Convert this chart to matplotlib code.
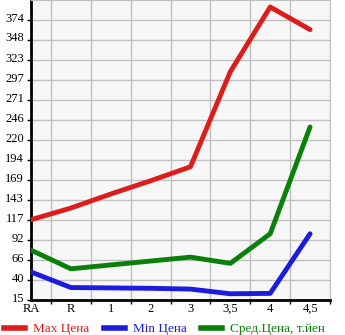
import matplotlib.pyplot as plt
import matplotlib.transforms as mtransforms
from matplotlib.lines import Line2D

# categories on the x axis
categories = ["RA", "R", "1", "2", "3", "3,5", "4", "4,5"]

# prices
max_price = [118, 133, 151, 168, 186, 308, 391, 362]
min_price = [51, 31, 30.5, 30, 29, 23, 23.5, 100]
avg_price = [79, 55, 60, 65, 70, 62, 100, 237]

y_ticks = [15 + i * 385 / 15 for i in range(15)]
y_labels = ["15", "40", "66", "92", "117", "143", "169", "194", "220",
            "246", "271", "297", "323", "348", "374"]

plt.rcParams['font.family'] = ['Liberation Serif', 'DejaVu Serif']

fig = plt.figure(figsize=(3.45, 3.35), dpi=100)
ax = fig.add_axes([31 / 345, 35 / 335, 299 / 345, 300 / 335])
ax.set_facecolor("#f7f7f7")

x = list(range(len(categories)))
red, blue, green = "#dd1c1c", "#1c1cdd", "#0a800a"
ax.plot(x, max_price, color=red, linewidth=3.5, solid_capstyle="round", zorder=3)
ax.plot(x, min_price, color=blue, linewidth=3.5, solid_capstyle="round", zorder=3)
ax.plot(x, avg_price, color=green, linewidth=3.5, solid_capstyle="round", zorder=3)

ax.set_xlim(0, 7.5)
ax.set_ylim(15, 400)

# grid every half step on x, at every tick on y
ax.set_xticks([i * 0.5 for i in range(16)], minor=True)
ax.set_xticks(x)
ax.set_xticklabels(categories, fontsize=9)
ax.set_yticks(y_ticks)
ax.set_yticklabels(y_labels, fontsize=9)
ax.grid(True, which="minor", axis="x", color="#c0c0c0", linewidth=1)
ax.grid(True, which="major", axis="y", color="#c0c0c0", linewidth=1)
ax.tick_params(axis="x", which="major", length=0, pad=2)
ax.tick_params(axis="x", which="minor", length=3, width=1, color="black")
ax.tick_params(axis="y", length=3, width=1, pad=2)
ax.set_axisbelow(True)

# y labels sit a little above their ticks
shift = mtransforms.ScaledTranslation(0, 3 / 100, fig.dpi_scale_trans)
for lbl in ax.get_yticklabels():
    lbl.set_transform(lbl.get_transform() + shift)

ax.spines["left"].set_linewidth(2)
ax.spines["bottom"].set_linewidth(2)
ax.spines["top"].set_color("#c0c0c0")
ax.spines["right"].set_color("#c0c0c0")

handles = [Line2D([], [], color=red, linewidth=4),
           Line2D([], [], color=blue, linewidth=4),
           Line2D([], [], color=green, linewidth=4)]
leg = fig.legend(handles, ["Max Цена", "Min Цена", "Сред.Цена, т.йен"],
                 loc="lower left", bbox_to_anchor=(-0.012, -0.025), ncol=3,
                 frameon=False, fontsize=9.5, handlelength=1.6,
                 handletextpad=0.6, columnspacing=1.1, borderaxespad=0.2)
for text, c in zip(leg.get_texts(), [red, blue, green]):
    text.set_color(c)

fig.savefig("out.png", dpi=100)
